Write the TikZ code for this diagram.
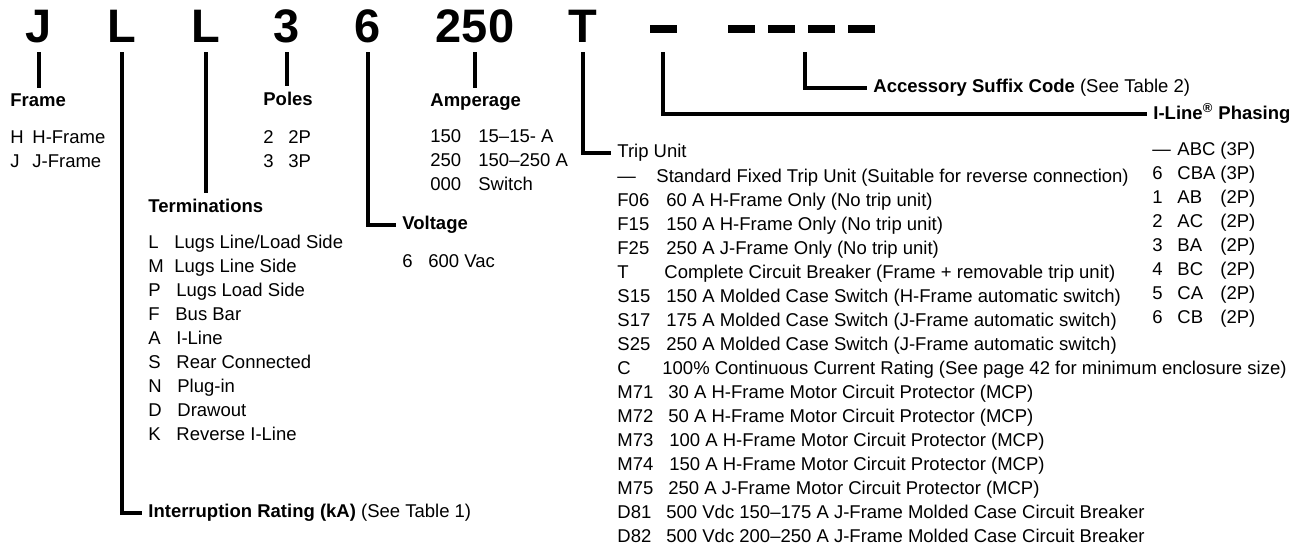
\documentclass[tikz,border=0pt]{standalone}
\usepackage{fontspec}
\setmainfont{Liberation Sans}
\usetikzlibrary{calc,positioning}

\begin{document}
\begin{tikzpicture}[x=0.5pt,y=-0.5pt,
    code node/.style={anchor=base,inner sep=0pt,outer ysep=5pt,text depth=0pt,font=\fontsize{23.5}{28}\selectfont\bfseries},
    dash node/.style={fill=black,inner sep=0pt,minimum width=13.5pt,minimum height=4pt,outer ysep=9.5pt},
    head node/.style={anchor=base west,inner xsep=0pt,inner ysep=2.5pt,font=\fontsize{9.25}{11}\selectfont\bfseries},
    side node/.style={anchor=west,inner xsep=3pt,inner ysep=0pt,font=\fontsize{9.25}{11}\selectfont},
    item node/.style={anchor=base west,inner sep=0pt,font=\fontsize{9.25}{11}\selectfont},
    link/.style={draw,line width=2pt}]
    \useasboundingbox (0,0) rectangle (1299,548);

    % catalogue number
    \node[code node] (cJ) at (39,42) {J};
    \node[code node] (cL1) at (122,42) {L};
    \node[code node] (cL2) at (206,42) {L};
    \node[code node] (c3) at (287,42) {3};
    \node[code node] (c6) at (368,42) {6};
    \node[code node] (c250) at (475,42) {250};
    \node[code node] (cT) at (583,42) {T};
    \node[dash node] (d0) at (663,29) {};
    \foreach \i/\x in {1/741.5,2/781,3/821.5,4/861.5}
        \node[dash node] (d\i) at (\x,29) {};

    % headings
    \node[head node] (hdFrame) at (10,106) {Frame};
    \node[head node] (hdPoles) at (263,105) {Poles};
    \node[head node] (hdAmp) at (430,106) {Amperage};
    \node[head node] (hdTerm) at (148,212) {Terminations};
    \node[side node,font=\fontsize{9.25}{11}\selectfont\bfseries] (hdVolt) at (396,225) {Voltage};
    \node[side node] (hdTrip) at (611,153) {Trip Unit};
    \node[side node] (hdAcc) at (867,88) {\textbf{Accessory Suffix Code} (See Table 2)};
    \node[side node] (hdPhase) at (1147,113.5) {\textbf{I-Line\textsuperscript{\textregistered} Phasing}};
    \node[side node] (hdRate) at (142,513) {\textbf{Interruption Rating (kA)} (See Table 1)};

    \path[link] (cJ.south) -- (cJ.south |- hdFrame.north);
    \path[link] (cL1.south) |- (hdRate.west);
    \path[link] (cL2.south) -- (cL2.south |- hdTerm.north);
    \path[link] (c3.south) -- (c3.south |- hdPoles.north);
    \path[link] (c6.south) |- (hdVolt.west);
    \path[link] (c250.south) -- (c250.south |- hdAmp.north);
    \path[link] (cT.south) |- (hdTrip.west);
    \path[link] (d0.south) |- (hdPhase.west);
    \path[link] ($(d2.south)!0.6!(d3.south)$) |- (hdAcc.west);

    % option lists
    \foreach \c/\t [count=\k from 0] in {H/H-Frame, J/J-Frame} {
        \node[item node] (frc\k) at (10,{143+24*\k}) {\c};
        \node[item node] (frt\k) at (32,{143+24*\k}) {\t};
    }
    \foreach \c/\t [count=\k from 0] in {2/2P, 3/3P} {
        \node[item node] (poc\k) at (263,{143+24*\k}) {\c};
        \node[item node] (pot\k) at (288,{143+24*\k}) {\t};
    }
    \foreach \c/\t [count=\k from 0] in {150/15–15- A, 250/150–250 A, 000/Switch} {
        \node[item node] (amc\k) at (430,{142+24*\k}) {\c};
        \node[item node] (amt\k) at (478,{142+24*\k}) {\t};
    }
    \foreach \c/\x/\t [count=\k from 0] in {L/174/{Lugs Line/Load Side}, M/174/Lugs Line Side,
        P/176/Lugs Load Side, F/175/Bus Bar, A/176/I-Line, S/176/Rear Connected,
        N/177/Plug-in, D/177/Drawout, K/176/Reverse I-Line} {
        \node[item node] (tec\k) at (148,{248+24*\k}) {\c};
        \node[item node] (tet\k) at (\x,{248+24*\k}) {\t};
    }
    \node[item node] (voc0) at (402,267) {6};
    \node[item node] (vot0) at (428,267) {600 Vac};
    \foreach \c/\x/\t [count=\k from 0] in {
        —/656/Standard Fixed Trip Unit (Suitable for reverse connection),
        F06/666/60 A H-Frame Only (No trip unit),
        F15/666/150 A H-Frame Only (No trip unit),
        F25/666/250 A J-Frame Only (No trip unit),
        T/664/Complete Circuit Breaker (Frame + removable trip unit),
        S15/666/150 A Molded Case Switch (H-Frame automatic switch),
        S17/666/175 A Molded Case Switch (J-Frame automatic switch),
        S25/666/250 A Molded Case Switch (J-Frame automatic switch),
        C/662/100\% Continuous Current Rating (See page 42 for minimum enclosure size),
        M71/668/30 A H-Frame Motor Circuit Protector (MCP),
        M72/668/50 A H-Frame Motor Circuit Protector (MCP),
        M73/669/100 A H-Frame Motor Circuit Protector (MCP),
        M74/669/150 A H-Frame Motor Circuit Protector (MCP),
        M75/668/250 A J-Frame Motor Circuit Protector (MCP),
        D81/666/500 Vdc 150–175 A J-Frame Molded Case Circuit Breaker,
        D82/666/500 Vdc 200–250 A J-Frame Molded Case Circuit Breaker} {
        \node[item node] (trc\k) at (617,{182+24*\k}) {\c};
        \node[item node] (trt\k) at (\x,{182+24*\k}) {\t};
    }
    \foreach \c/\t/\p [count=\k from 0] in {—/ABC/(3P), 6/CBA/(3P), 1/AB/(2P), 2/AC/(2P),
        3/BA/(2P), 4/BC/(2P), 5/CA/(2P), 6/CB/(2P)} {
        \node[item node] (phc\k) at (1152,{155+24*\k}) {\c};
        \node[item node] (pht\k) at (1177,{155+24*\k}) {\t};
        \node[item node] (php\k) at (1220,{155+24*\k}) {\p};
    }
\end{tikzpicture}
\end{document}
